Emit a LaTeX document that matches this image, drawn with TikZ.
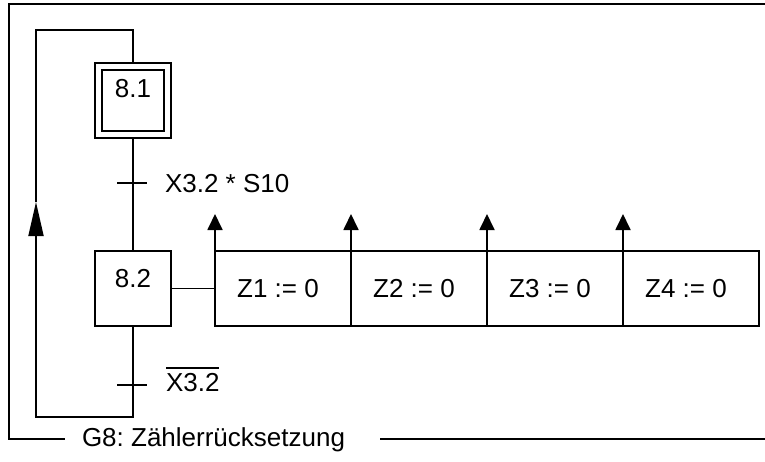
\documentclass[tikz,border=0pt]{standalone}
\usepackage{fontspec}
\setmainfont{Liberation Sans}
\usetikzlibrary{arrows.meta}
\frenchspacing
\begin{document}
\begin{tikzpicture}[x=1pt,y=-1pt,
  every node/.style={font=\fontsize{26}{30}\selectfont, inner sep=0pt, outer sep=0pt},
  ln/.style={line width=1.8pt},
  stepbox/.style={draw, line width=1.8pt, minimum width=75.5pt, minimum height=75.5pt},
  initbox/.style={draw, line width=1.8pt, minimum width=61.5pt, minimum height=61pt},
  actbox/.style={draw, line width=1.8pt, minimum width=136pt, minimum height=75pt},
  bigarrow/.style={line width=1.8pt, -{Triangle[length=34pt,width=15pt]}},
  actarrow/.style={line width=1.8pt, -{Triangle[length=16pt,width=15pt]}},
  tick/.style={line width=1.8pt}
]
\useasboundingbox (0,0) rectangle (765,461);
% frame
\coordinate (fr1) at (765,4);
\coordinate (fr2) at (9,4);
\coordinate (fr3) at (9,439);
\coordinate (fr4) at (65,439);
\coordinate (fr5) at (380,439);
\coordinate (fr6) at (765,439);
\draw[ln] (fr1) -- (fr2) -- (fr3) -- (fr4);
\draw[ln] (fr5) -- (fr6);
\node[anchor=west] (title) at (82,440) {G8: Zählerrücksetzung};
% steps
\node[stepbox] (s81) at (133,100.4) {};
\node[initbox] (s81i) at (133,100.4) {};
\node (t81) at (133,89) {8.1};
\node[stepbox] (s82) at (133,288.5) {};
\node (t82) at (133,279) {8.2};
% actions
\node[actbox, anchor=west] (a1) at (215,288.5) {};
\node[actbox, anchor=west] (a2) at (a1.east) {};
\node[actbox, anchor=west] (a3) at (a2.east) {};
\node[actbox, anchor=west] (a4) at (a3.east) {};
\node (z1) at ([xshift=-5pt]a1.center) {Z1 := 0};
\node (z2) at ([xshift=-5pt]a2.center) {Z2 := 0};
\node (z3) at ([xshift=-5pt]a3.center) {Z3 := 0};
\node (z4) at ([xshift=-5pt]a4.center) {Z4 := 0};
\draw[ln] (s82.east) -- (a1.west);
% action arrows
\coordinate (p1) at (215,214);
\coordinate (p2) at (351,214);
\coordinate (p3) at (487,214);
\coordinate (p4) at (623,214);
\draw[actarrow] (a1.north west) -- (p1);
\draw[actarrow] (a2.south west) -- (p2);
\draw[actarrow] (a3.south west) -- (p3);
\draw[actarrow] (a4.south west) -- (p4);
% main link
\draw[ln] (s81.south) -- (s82.north);
\coordinate (tr1) at (133,183);
\draw[tick] ([xshift=-16pt]tr1) -- ([xshift=14pt]tr1);
\node[anchor=west] (c1) at (165,183.5) {X3.2 * S10};
\coordinate (tr2) at (133,385);
\draw[tick] ([xshift=-16pt]tr2) -- ([xshift=14pt]tr2);
\node[anchor=base west] (c2) at (166,391.5) {X3.2};
\draw[line width=1.4pt] ([yshift=5.5pt]c2.north west) -- ([yshift=5.5pt]c2.north east);
% loop
\coordinate (l1) at (133,417);
\coordinate (l2) at (36,417);
\coordinate (l3) at (36,202);
\coordinate (l4) at (36,30);
\coordinate (l5) at (133,30);
\draw[ln] (s82.south) -- (l1) -- (l2) -- (36,238);
\draw[bigarrow] (l2) -- (l3);
\draw[ln] (l3) -- (l4) -- (l5) -- (s81.north);
\end{tikzpicture}
\end{document}
